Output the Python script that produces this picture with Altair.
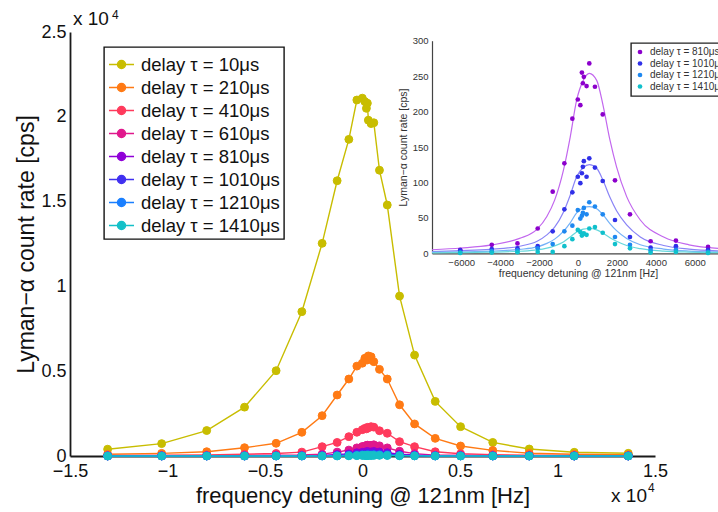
import altair as alt
import pandas as pd

FONT = "Liberation Sans"

# ---------------- main plot data ----------------
FREQ = [-13070, -10300, -7990, -6050, -4430, -3110, -2070, -1300, -700, -290,
        -10, 120, 200, 250, 300, 440, 580, 870, 1270, 1900, 2670, 3730, 5030,
        6680, 8550, 10860, 13630]

LABELS = ["delay τ = 10μs", "delay τ = 210μs", "delay τ = 410μs", "delay τ = 610μs",
          "delay τ = 810μs", "delay τ = 1010μs", "delay τ = 1210μs", "delay τ = 1410μs"]
COLORS = ["#c8bd00", "#ff7a14", "#ff3a5c", "#e0188c", "#9000d8", "#4030f0", "#1a7fff", "#14c0c8"]

D10 = [400, 730, 1500, 2880, 5030, 8510, 12540, 16230, 18670, 20990, 21100, 20900, 20500,
       20800, 19800, 19600, 19650, 16850, 14800, 9430, 5950, 3220, 1730, 800, 413, 218, 159]
D210 = [100, 157, 253, 490, 749, 1397, 2377, 3597, 4540, 5300, 5470, 5760, 5760, 5660, 5900,
        5850, 5560, 5110, 4540, 3020, 1890, 1040, 590, 330, 160, 100, 80]
D410 = [30, 40, 60, 100, 150, 230, 550, 800, 1140, 1400, 1550, 1630, 1600, 1690, 1660, 1730,
        1700, 1490, 1340, 845, 550, 250, 130, 80, 50, 35, 25]
D610 = [8, 12, 18, 25, 40, 55, 110, 230, 350, 480, 560, 580, 620, 640, 620, 630, 660, 600,
        480, 280, 140, 50, 40, 22, 12, 8, 5]
D810 = [2, 3, 4, 5, 12, 14, 35, 87, 127, 190, 217, 209, 255, 240, 249, 236, 268, 235, 196,
        103, 55, 17, 18, 9, 5, 3, 2]
D1010 = [1, 2, 3, 4, 6, 7, 10, 31, 62, 86, 108, 99, 113, 122, 130, 108, 134, 121, 102, 47,
         23, 8, 10, 5, 3, 2, 1]
D1210 = [1, 1, 1, 1, 3, 4, 7, 13, 31, 39, 61, 49, 53, 57, 64, 55, 72, 66, 55, 23, 12, 4, 5,
         2, 1, 1, 1]
D1410 = [0, 0, 0, 0.5, 1, 1.5, 2, 2, 10, 20, 33, 30, 25, 27, 28, 26, 35, 37, 29, 13, 7, 1, 2,
         0.5, 0, 0, 0]
SERIES = [D10, D210, D410, D610, D810, D1010, D1210, D1410]

X_TICKS = [-15000, -10000, -5000, 0, 5000, 10000, 15000]
Y_TICKS = [0, 5000, 10000, 15000, 20000, 25000]

# ---------------- inset data ----------------
INSET_LABELS = LABELS[4:]
FIT_LABELS = ["fit 810μs", "fit 1010μs", "fit 1210μs", "fit 1410μs"]
INSET_COLORS = ["#8c00cc", "#3030e8", "#1e88f0", "#10c0cc"]
FIT_COLORS = ["#c267ee", "#8a84f6", "#74b2f8", "#66d8dc"]
FIT_FREQ = [-7500, -6000, -4500, -3000, -2100, -1600, -1200, -750, -400, -70, 270, 580,
            960, 1300, 1640, 1980, 2500, 3200, 4400, 5700, 7200, 7500]
FIT810 = [5, 7.5, 11.5, 21, 34, 52, 75, 117, 164, 216, 244, 254, 244, 207, 160, 122, 80, 47,
          23, 12, 7, 6.5]
FIT1010 = [2.5, 3.7, 5.6, 10, 17, 26, 37, 58, 82, 108, 121, 125, 120, 102, 79, 60, 40, 23,
           11, 6, 3.5, 3.2]
FIT1210 = [1.3, 2, 3, 5.5, 9, 14, 20, 31, 43, 57, 64, 66, 63, 54, 42, 32, 21, 12, 6, 3.2,
           1.9, 1.7]
FIT1410 = [0.7, 1, 1.6, 2.9, 4.8, 7.3, 10.5, 16, 23, 30, 34, 35, 33, 28, 22, 17, 11, 6.5,
           3.1, 1.7, 1, 0.9]
FITS = [FIT810, FIT1010, FIT1210, FIT1410]
INSET_X_TICKS = [-6000, -4000, -2000, 0, 2000, 4000, 6000]
INSET_Y_TICKS = [0, 50, 100, 150, 200, 250, 300]

# ---------------- tables ----------------
rows = []
for lab, vals in zip(LABELS, SERIES):
    for f, v in zip(FREQ, vals):
        rows.append({"f": f, "rate": v, "series": lab})
main_df = pd.DataFrame(rows)

irows = []
for lab, vals in zip(INSET_LABELS, SERIES[4:]):
    for f, v in zip(FREQ, vals):
        if -7500 <= f <= 7500:
            irows.append({"f": f, "rate": v, "iseries": lab})
inset_df = pd.DataFrame(irows)

frows = []
for lab, vals in zip(FIT_LABELS, FITS):
    for f, v in zip(FIT_FREQ, vals):
        frows.append({"f": f, "rate": v, "fseries": lab})
fit_df = pd.DataFrame(frows)

W, H = 585, 424

# ---------------- main layer ----------------
mx = alt.X("f:Q", scale=alt.Scale(domain=[-15000, 15000], nice=False, zero=False),
           title="frequency detuning @ 121nm [Hz]",
           axis=alt.Axis(values=X_TICKS, labelExpr="format(datum.value/10000, '~g')",
                         labelFontSize=18, labelFont=FONT, labelColor="#111",
                         domainColor="#1a1a1a", domainWidth=1.8, ticks=False,
                         labelPadding=6, labelFlush=False, labelOverlap=False,
                         titleFontSize=22, titleFont=FONT, titleFontWeight="normal",
                         titleColor="#111", titlePadding=5, grid=False))
my = alt.Y("rate:Q", scale=alt.Scale(domain=[0, 25000], nice=False),
           title="Lyman−α count rate [cps]",
           axis=alt.Axis(values=Y_TICKS, labelExpr="format(datum.value/10000, '~g')",
                         labelFontSize=18, labelFont=FONT, labelColor="#111",
                         domainColor="#1a1a1a", domainWidth=1.8, ticks=False,
                         labelPadding=4, labelFlush=False, labelOverlap=False,
                         titleFontSize=23, titleFont=FONT, titleFontWeight="normal",
                         titleColor="#111", titlePadding=2, grid=False))

SYMBOL = "M-1,0L1,0M-0.32,0A0.32,0.32,0,1,1,0.32,0A0.32,0.32,0,1,1,-0.32,0Z"
LEG = alt.Legend(title=None, orient="none", legendX=34, legendY=15,
                 symbolType=SYMBOL, symbolSize=625, symbolStrokeWidth=1.5,
                 labelFontSize=18.5, labelFont=FONT, labelColor="#111", labelOffset=6,
                 padding=4, rowPadding=0, strokeColor="#111",
                 fillColor="white", symbolOpacity=1)
sc_main = alt.Scale(domain=LABELS, range=COLORS)

main_lines = alt.Chart(main_df).mark_line(strokeWidth=1.4).encode(
    x=mx, y=my, stroke=alt.Stroke("series:N", scale=sc_main, legend=LEG))
main_pts = alt.Chart(main_df).mark_point(filled=True, size=62, strokeWidth=1, opacity=1).encode(
    x=mx, y=my,
    fill=alt.Fill("series:N", scale=sc_main, legend=LEG),
    stroke=alt.Stroke("series:N", scale=sc_main, legend=LEG))

t1 = alt.Chart().mark_text(text="x 10", align="left", baseline="alphabetic", fontSize=19,
                           font=FONT, color="#111", dx=3, dy=-7).encode(
    x=alt.datum(-15000), y=alt.datum(25000))
t2 = alt.Chart().mark_text(text="4", align="left", baseline="alphabetic", fontSize=12,
                           font=FONT, color="#111", dx=42, dy=-13).encode(
    x=alt.datum(-15000), y=alt.datum(25000))
t3 = alt.Chart().mark_text(text="x 10", align="right", baseline="alphabetic", fontSize=19,
                           font=FONT, color="#111", dx=-8, dy=46).encode(
    x=alt.datum(15000), y=alt.datum(0))
t4 = alt.Chart().mark_text(text="4", align="left", baseline="alphabetic", fontSize=12,
                           font=FONT, color="#111", dx=-7, dy=36).encode(
    x=alt.datum(15000), y=alt.datum(0))

main = alt.layer(main_lines, main_pts, t1, t2, t3, t4)

# ---------------- inset layer ----------------
IX0, IX1 = 362, 654
IY0, IY1 = 221.3, 8.7
ix = alt.X("f:Q", scale=alt.Scale(domain=[-7500, 7500], range=[IX0, IX1], nice=False, zero=False),
           title="frequency detuning @ 121nm [Hz]",
           axis=alt.Axis(orient="bottom", offset=-(H - IY0), values=INSET_X_TICKS, format="d",
                         labelFontSize=9.5, labelFont=FONT, labelColor="#333",
                         domainColor="#444", domainWidth=1.2, ticks=False, labelPadding=4,
                         labelFlush=False, labelOverlap=False,
                         titleFontSize=10.5, titleFont=FONT, titleFontWeight="normal",
                         titleColor="#333", titlePadding=2, grid=False))
iy = alt.Y("rate:Q", scale=alt.Scale(domain=[0, 300], range=[IY0, IY1], nice=False),
           title="Lyman−α count rate [cps]",
           axis=alt.Axis(orient="left", offset=-IX0, values=INSET_Y_TICKS,
                         labelFontSize=9.5, labelFont=FONT, labelColor="#333",
                         domainColor="#444", domainWidth=1.2, ticks=False, labelPadding=4,
                         labelFlush=False, labelOverlap=False,
                         titleFontSize=10.5, titleFont=FONT, titleFontWeight="normal",
                         titleColor="#333", titlePadding=4, grid=False))

ILEG = alt.Legend(title=None, orient="none", legendX=561, legendY=11, symbolType="circle",
                  symbolSize=22, labelFontSize=10, labelFont=FONT, labelColor="#333",
                  labelOffset=5, padding=4, rowPadding=1.5, strokeColor="#222",
                  fillColor="white", symbolOpacity=1)

fit_lines = alt.Chart(fit_df).mark_line(strokeWidth=1.2, interpolate="monotone").encode(
    x=ix, y=iy,
    stroke=alt.Stroke("fseries:N", scale=alt.Scale(domain=FIT_LABELS, range=FIT_COLORS),
                      legend=None))
inset_pts = alt.Chart(inset_df).mark_circle(size=22, opacity=1).encode(
    x=ix, y=iy,
    color=alt.Color("iseries:N", scale=alt.Scale(domain=INSET_LABELS, range=INSET_COLORS),
                    legend=ILEG))

inset = alt.layer(fit_lines, inset_pts)

chart = alt.layer(main, inset).resolve_scale(
    x="independent", y="independent", fill="independent", stroke="independent",
    color="independent"
).resolve_legend(
    color="independent", fill="independent", stroke="independent"
).properties(
    width=W, height=H,
    autosize=alt.AutoSizeParams(type="none"),
    padding={"left": 70, "top": 32, "right": 63, "bottom": 56},
    background="white",
).configure_view(stroke=None).configure_axis(grid=False).configure_legend(strokeWidth=1.4)

chart.save("out.html", embed_options={"renderer": "svg", "actions": False})
